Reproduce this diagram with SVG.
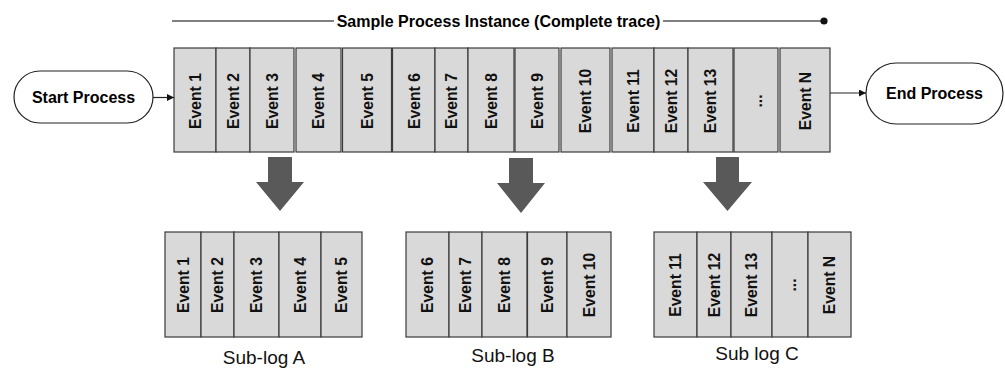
<svg xmlns="http://www.w3.org/2000/svg" width="1005" height="369" viewBox="0 0 1005 369">
<defs>
<style>
.ev{fill:#d9d9d9;stroke:#3a3a3a;stroke-width:1.2}
.et{font-family:"Liberation Sans",Arial,sans-serif;font-weight:bold;font-size:15.7px;fill:#111;text-anchor:middle;dominant-baseline:central}
.term{fill:#fff;stroke:#222;stroke-width:1.2}
.tt{font-family:"Liberation Sans",Arial,sans-serif;font-weight:bold;font-size:16px;fill:#000;text-anchor:middle}
.lbl{font-family:"Liberation Sans",Arial,sans-serif;font-size:19px;fill:#111;text-anchor:middle}
.conn{stroke:#222;stroke-width:1.2;fill:none}
.big{fill:#595959}
</style>
<marker id="ah" viewBox="0 0 10 10" refX="10" refY="5" markerWidth="7" markerHeight="7" markerUnits="userSpaceOnUse" orient="auto">
<path d="M0,0 L10,5 L0,10 z" fill="#111"/>
</marker>
</defs>
<rect width="1005" height="369" fill="#fff"/>

<g id="title">
<line x1="172" y1="21" x2="334" y2="21" stroke="#555" stroke-width="1.5"/>
<text class="tt" x="498.5" y="26.5">Sample Process Instance (Complete trace)</text>
<line x1="663" y1="21" x2="824" y2="21" stroke="#555" stroke-width="1.5"/>
<circle cx="824" cy="21" r="3.6" fill="#111"/>
</g>

<g id="start">
<rect class="term" x="14" y="71" width="139" height="52" rx="26" ry="26"/>
<text class="tt" x="83.5" y="102.5">Start Process</text>
</g>
<g id="end">
<rect class="term" x="866" y="63" width="137" height="61" rx="30.5" ry="30.5"/>
<text class="tt" x="934.5" y="99">End Process</text>
</g>

<g id="trace">
<g id="t1"><rect class="ev" x="174" y="48" width="42" height="104"/><text class="et" transform="translate(195,101) rotate(-90)">Event 1</text></g>
<g id="t2"><rect class="ev" x="216" y="48" width="34" height="104"/><text class="et" transform="translate(233,101) rotate(-90)">Event 2</text></g>
<g id="t3"><rect class="ev" x="250" y="48" width="44" height="104"/><text class="et" transform="translate(272,101) rotate(-90)">Event 3</text></g>
<g id="t4"><rect class="ev" x="296" y="48" width="45" height="104"/><text class="et" transform="translate(318.5,101) rotate(-90)">Event 4</text></g>
<g id="t5"><rect class="ev" x="342.5" y="48" width="49" height="104"/><text class="et" transform="translate(367,101) rotate(-90)">Event 5</text></g>
<g id="t6"><rect class="ev" x="392.5" y="48" width="42.5" height="104"/><text class="et" transform="translate(414,101) rotate(-90)">Event 6</text></g>
<g id="t7"><rect class="ev" x="435" y="48" width="33" height="104"/><text class="et" transform="translate(451.5,101) rotate(-90)">Event 7</text></g>
<g id="t8"><rect class="ev" x="468" y="48" width="46" height="104"/><text class="et" transform="translate(491,101) rotate(-90)">Event 8</text></g>
<g id="t9"><rect class="ev" x="515" y="48" width="44" height="104"/><text class="et" transform="translate(537,101) rotate(-90)">Event 9</text></g>
<g id="t10"><rect class="ev" x="561" y="48" width="49" height="104"/><text class="et" transform="translate(585.5,101) rotate(-90)">Event 10</text></g>
<g id="t11"><rect class="ev" x="612" y="48" width="42" height="104"/><text class="et" transform="translate(633,101) rotate(-90)">Event 11</text></g>
<g id="t12"><rect class="ev" x="654" y="48" width="34" height="104"/><text class="et" transform="translate(671,101) rotate(-90)">Event 12</text></g>
<g id="t13"><rect class="ev" x="688" y="48" width="45" height="104"/><text class="et" transform="translate(710.5,101) rotate(-90)">Event 13</text></g>
<g id="tdots"><rect class="ev" x="734" y="48" width="44" height="104"/><text class="et" transform="translate(756,101) rotate(-90)">...</text></g>
<g id="tN"><rect class="ev" x="780" y="48" width="50" height="104"/><text class="et" transform="translate(805,101) rotate(-90)">Event N</text></g>
</g>

<g id="connectors">
<line class="conn" x1="153" y1="97.5" x2="174" y2="97.5" marker-end="url(#ah)"/>
<line class="conn" x1="830" y1="93" x2="866" y2="93" marker-end="url(#ah)"/>
<path class="big" d="M268,157 H292 V182 H304 L280,211 L256,182 H268 Z"/>
<path class="big" d="M509,158 H533 V183 H545 L521,213 L497,183 H509 Z"/>
<path class="big" d="M716,157 H739 V182 H752 L727.5,211 L703,182 H716 Z"/>
</g>

<g id="sublogA">
<rect class="ev" x="165" y="232" width="36" height="105"/><text class="et" transform="translate(183,285) rotate(-90)">Event 1</text>
<rect class="ev" x="201" y="232" width="33" height="105"/><text class="et" transform="translate(217.5,285) rotate(-90)">Event 2</text>
<rect class="ev" x="234" y="232" width="45" height="105"/><text class="et" transform="translate(256.5,285) rotate(-90)">Event 3</text>
<rect class="ev" x="279" y="232" width="42" height="105"/><text class="et" transform="translate(300,285) rotate(-90)">Event 4</text>
<rect class="ev" x="321" y="232" width="41" height="105"/><text class="et" transform="translate(341.5,285) rotate(-90)">Event 5</text>
<text class="lbl" x="264" y="364">Sub-log A</text>
</g>

<g id="sublogB">
<rect class="ev" x="406" y="232" width="43" height="105"/><text class="et" transform="translate(427.5,285) rotate(-90)">Event 6</text>
<rect class="ev" x="449" y="232" width="33" height="105"/><text class="et" transform="translate(465.5,285) rotate(-90)">Event 7</text>
<rect class="ev" x="482" y="232" width="45" height="105"/><text class="et" transform="translate(504.5,285) rotate(-90)">Event 8</text>
<rect class="ev" x="527.5" y="232" width="39.5" height="105"/><text class="et" transform="translate(547,285) rotate(-90)">Event 9</text>
<rect class="ev" x="567" y="232" width="44" height="105"/><text class="et" transform="translate(589,285) rotate(-90)">Event 10</text>
<text class="lbl" x="513" y="362">Sub-log B</text>
</g>

<g id="sublogC">
<rect class="ev" x="654" y="232" width="43" height="105"/><text class="et" transform="translate(675.5,285) rotate(-90)">Event 11</text>
<rect class="ev" x="697" y="232" width="34" height="105"/><text class="et" transform="translate(714,285) rotate(-90)">Event 12</text>
<rect class="ev" x="731" y="232" width="41" height="105"/><text class="et" transform="translate(751.5,285) rotate(-90)">Event 13</text>
<rect class="ev" x="772" y="232" width="36" height="105"/><text class="et" transform="translate(790,285) rotate(-90)">...</text>
<rect class="ev" x="808" y="232" width="43" height="105"/><text class="et" transform="translate(829.5,285) rotate(-90)">Event N</text>
<text class="lbl" x="757" y="360">Sub log C</text>
</g>
</svg>
